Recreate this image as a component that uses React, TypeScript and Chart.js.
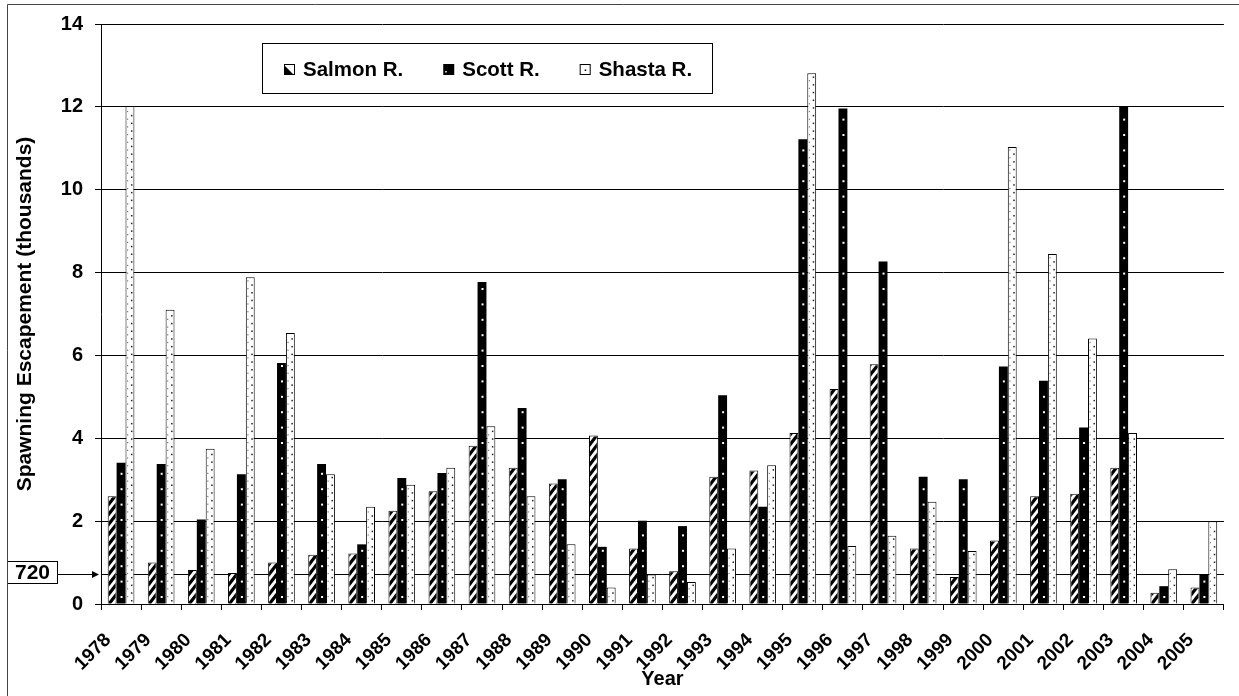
import React, { useEffect, useRef } from 'react';
import { Chart, registerables } from 'chart.js';

Chart.register(...registerables);

// ---------- data ----------
const YEARS = [
  '1978', '1979', '1980', '1981', '1982', '1983', '1984', '1985', '1986', '1987',
  '1988', '1989', '1990', '1991', '1992', '1993', '1994', '1995', '1996', '1997',
  '1998', '1999', '2000', '2001', '2002', '2003', '2004', '2005',
];
const SALMON = [
  2.60, 1.00, 0.82, 0.75, 1.00, 1.19, 1.22, 2.25, 2.72, 3.82,
  3.29, 2.91, 4.07, 1.34, 0.79, 3.07, 3.22, 4.13, 5.19, 5.79,
  1.34, 0.65, 1.53, 2.60, 2.66, 3.29, 0.27, 0.40,
];
const SCOTT = [
  3.41, 3.38, 2.04, 3.13, 5.82, 3.38, 1.44, 3.04, 3.16, 7.77,
  4.73, 3.01, 1.38, 2.01, 1.88, 5.04, 2.35, 11.22, 11.96, 8.27,
  3.07, 3.01, 5.73, 5.39, 4.26, 12.0, 0.43, 0.70,
];
const SHASTA = [
  12.02, 7.10, 3.75, 7.89, 6.54, 3.13, 2.35, 2.88, 3.29, 4.29,
  2.60, 1.44, 0.40, 0.71, 0.53, 1.34, 3.35, 12.81, 1.40, 1.65,
  2.47, 1.28, 11.03, 8.45, 6.41, 4.13, 0.84, 2.00,
];
const SERIES_NAMES = ['Salmon R.', 'Scott R.', 'Shasta R.'];
const Y_MIN = 0;
const Y_MAX = 14;
const Y_STEP = 2;
const THRESHOLD = 0.72;
const THRESHOLD_LABEL = '720';
const X_TITLE = 'Year';
const Y_TITLE = 'Spawning Escapement (thousands)';

// ---------- styles ----------
const FONT = "'Liberation Sans', Arial, Helvetica, sans-serif";
const W = 1239;
const H = 696;

function drawBarTexture(ctx: CanvasRenderingContext2D, kind: number, left: number, right: number, top: number, bottom: number, cx: number, plotBottom: number) {
  const w = right - left;
  if (kind === 0) {
    ctx.strokeStyle = '#000';
    ctx.lineWidth = 3.2;
    const slope = 1.3;
    const period = 10;
    for (let yb = plotBottom + w * slope + period; yb > top - period; yb -= period) {
      ctx.beginPath();
      ctx.moveTo(left - 2, yb + 2 * slope);
      ctx.lineTo(right + 2, yb - (w + 2) * slope);
      ctx.stroke();
    }
  } else if (kind === 1) {
    ctx.fillStyle = '#fff';
    for (let yy = plotBottom - 8; yy > top + 2; yy -= 15.4) {
      ctx.fillRect(cx - 0.5, yy, 2, 2);
    }
  } else {
    ctx.fillStyle = '#222';
    for (let yy = plotBottom - 4; yy > top + 2; yy -= 7.7) {
      ctx.fillRect(cx + 1, yy, 1.5, 1.5);
    }
    ctx.fillStyle = '#777';
    for (let yy = plotBottom - 8; yy > top + 2; yy -= 7.7) {
      ctx.fillRect(left + 1.5, yy, 1.2, 1.2);
    }
  }
}

const texturePlugin = {
  id: 'barTextures',
  afterDatasetsDraw(chart: any) {
    const ctx = chart.ctx as CanvasRenderingContext2D;
    const plotBottom = chart.chartArea.bottom;
    chart.data.datasets.forEach((_ds: any, di: number) => {
      const meta = chart.getDatasetMeta(di);
      meta.data.forEach((bar: any) => {
        const { x, y, base, width } = bar.getProps(['x', 'y', 'base', 'width'], true);
        const left = x - width / 2;
        const right = x + width / 2;
        const top = Math.min(y, base);
        const bottom = Math.max(y, base);
        if (bottom - top < 2) return;
        ctx.save();
        ctx.beginPath();
        ctx.rect(left + 1, top + 1, width - 2, bottom - top - 1);
        ctx.clip();
        drawBarTexture(ctx, di, left, right, top, bottom, x, plotBottom);
        ctx.restore();
      });
    });
  },
};

const thresholdPlugin = {
  id: 'threshold',
  beforeDatasetsDraw(chart: any) {
    const ctx = chart.ctx as CanvasRenderingContext2D;
    const { left, right } = chart.chartArea;
    const yp = Math.round(chart.scales.y.getPixelForValue(THRESHOLD)) + 0.5;
    ctx.save();
    ctx.strokeStyle = '#000';
    ctx.lineWidth = 1;
    ctx.beginPath();
    ctx.moveTo(left, yp);
    ctx.lineTo(right, yp);
    ctx.stroke();
    ctx.restore();
  },
  afterDraw(chart: any) {
    const ctx = chart.ctx as CanvasRenderingContext2D;
    const { left } = chart.chartArea;
    const yp = Math.round(chart.scales.y.getPixelForValue(THRESHOLD)) + 0.5;
    const bx = 7.5;
    const bw = 50;
    const bh = 22;
    const by = yp - 13;
    ctx.save();
    ctx.fillStyle = '#fff';
    ctx.fillRect(bx, by, bw, bh);
    ctx.strokeStyle = '#000';
    ctx.lineWidth = 1;
    ctx.strokeRect(bx, by, bw, bh);
    ctx.fillStyle = '#000';
    ctx.font = `bold 21px ${FONT}`;
    ctx.textAlign = 'center';
    ctx.textBaseline = 'middle';
    ctx.fillText(THRESHOLD_LABEL, bx + bw / 2, by + bh / 2 + 1);
    const tipX = left - 2;
    ctx.beginPath();
    ctx.moveTo(bx + bw, yp);
    ctx.lineTo(tipX - 5, yp);
    ctx.stroke();
    ctx.beginPath();
    ctx.moveTo(tipX, yp);
    ctx.lineTo(tipX - 7, yp - 3.5);
    ctx.lineTo(tipX - 7, yp + 3.5);
    ctx.closePath();
    ctx.fill();
    ctx.restore();
  },
};

function drawIcon(ctx: CanvasRenderingContext2D, kind: number, x: number, y: number, s: number) {
  ctx.save();
  ctx.lineWidth = 1;
  ctx.strokeStyle = '#000';
  if (kind === 0) {
    ctx.fillStyle = '#fff';
    ctx.fillRect(x, y, s, s);
    ctx.fillStyle = '#000';
    ctx.beginPath();
    ctx.moveTo(x, y + s);
    ctx.lineTo(x, y + 1);
    ctx.lineTo(x + s - 1, y + s);
    ctx.closePath();
    ctx.fill();
    ctx.strokeRect(x + 0.5, y + 0.5, s - 1, s - 1);
  } else if (kind === 1) {
    ctx.fillStyle = '#000';
    ctx.fillRect(x, y, s, s);
    ctx.fillStyle = '#fff';
    ctx.fillRect(x + 2, y + s - 4, 1.5, 1.5);
  } else {
    ctx.fillStyle = '#fff';
    ctx.fillRect(x, y, s, s);
    ctx.strokeRect(x + 0.5, y + 0.5, s - 1, s - 1);
    ctx.fillStyle = '#000';
    ctx.fillRect(x + s / 2 - 0.5, y + s / 2, 1.5, 1.5);
  }
  ctx.restore();
}

const legendPlugin = {
  id: 'boxLegend',
  afterDraw(chart: any) {
    const ctx = chart.ctx as CanvasRenderingContext2D;
    const bx = 262.5;
    const by = 43.5;
    const bw = 450;
    const bh = 50;
    ctx.save();
    ctx.fillStyle = '#fff';
    ctx.fillRect(bx, by, bw, bh);
    ctx.strokeStyle = '#000';
    ctx.lineWidth = 1;
    ctx.strokeRect(bx, by, bw, bh);
    ctx.font = `bold 20.5px ${FONT}`;
    ctx.textBaseline = 'middle';
    ctx.textAlign = 'left';
    let cx = 284;
    const cy = 69;
    chart.data.datasets.forEach((ds: any, i: number) => {
      drawIcon(ctx, i, cx, cy - 5, 11);
      ctx.fillStyle = '#000';
      ctx.fillText(ds.label, cx + 19, cy + 1);
      cx += 19 + ctx.measureText(ds.label).width + 40;
    });
    ctx.restore();
  },
};

const framePlugin = {
  id: 'frame',
  afterDraw(chart: any) {
    const ctx = chart.ctx as CanvasRenderingContext2D;
    ctx.save();
    ctx.strokeStyle = '#444';
    ctx.lineWidth = 1;
    ctx.beginPath();
    ctx.moveTo(7.5, H);
    ctx.lineTo(7.5, 4.5);
    ctx.lineTo(W, 4.5);
    ctx.stroke();
    ctx.restore();
  },
};

export default function App() {
  const ref = useRef<HTMLCanvasElement>(null);

  useEffect(() => {
    if (!ref.current) return;
    const chart = new Chart(ref.current, {
      type: 'bar',
      data: {
        labels: YEARS,
        datasets: [
          { label: SERIES_NAMES[0], data: SALMON, backgroundColor: '#fff', borderColor: '#000', borderWidth: 1 },
          { label: SERIES_NAMES[1], data: SCOTT, backgroundColor: '#000', borderColor: '#000', borderWidth: 0 },
          { label: SERIES_NAMES[2], data: SHASTA, backgroundColor: '#fff', borderColor: '#000', borderWidth: 1 },
        ],
      },
      options: {
        animation: false,
        responsive: false,
        devicePixelRatio: 1,
        layout: { padding: { left: 0, top: 22, right: -2, bottom: 0 } },
        datasets: { bar: { categoryPercentage: 0.665, barPercentage: 1 } },
        plugins: {
          legend: { display: false },
          tooltip: { enabled: false },
          title: { display: false },
        },
        scales: {
          x: {
            type: 'category',
            offset: true,
            grid: { display: true, drawOnChartArea: false, drawTicks: true, tickLength: 6, color: '#000', offset: true },
            border: { display: true, color: '#000', width: 1 },
            ticks: {
              color: '#000',
              font: { family: FONT, size: 19, weight: 'bold' },
              minRotation: 45,
              maxRotation: 45,
              autoSkip: false,
              padding: 19,
              labelOffset: -13,
            },
            title: {
              display: true,
              text: X_TITLE,
              color: '#000',
              font: { family: FONT, size: 20, weight: 'bold' },
              padding: { top: 0, bottom: 5 },
            },
            afterFit: (s: any) => { s.height = 92; },
          },
          y: {
            min: Y_MIN,
            max: Y_MAX,
            ticks: {
              stepSize: Y_STEP,
              color: '#000',
              font: { family: FONT, size: 20, weight: 'bold' },
              padding: 12,
            },
            grid: { color: '#000', lineWidth: 1, tickLength: 6, drawTicks: true },
            border: { display: true, color: '#000', width: 1 },
            title: {
              display: true,
              text: Y_TITLE,
              color: '#000',
              font: { family: FONT, size: 21, weight: 'bold' },
              padding: { top: 13, bottom: 0 },
            },
            afterFit: (s: any) => { s.width = 101; },
          },
        },
      } as any,
      plugins: [thresholdPlugin, texturePlugin, legendPlugin, framePlugin],
    });
    return () => chart.destroy();
  }, []);

  return (
    <div style={{ position: 'absolute', left: 0, top: 0, width: W, height: H, background: '#fff' }}>
      <canvas ref={ref} width={W} height={H} style={{ display: 'block' }} />
    </div>
  );
}
